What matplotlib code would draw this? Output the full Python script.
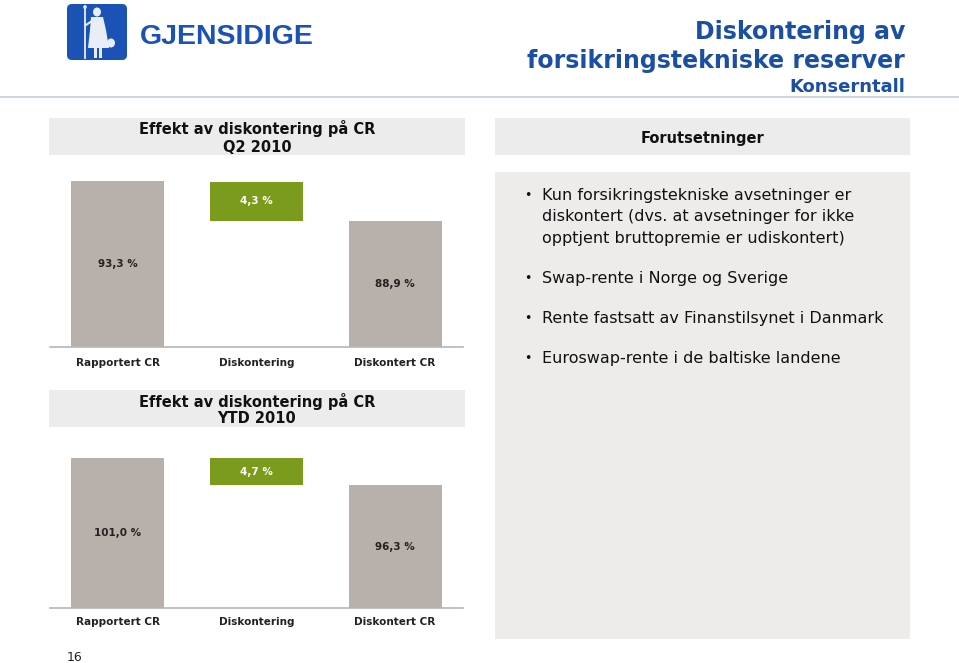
import matplotlib
matplotlib.use("Agg")
import matplotlib.pyplot as plt
from matplotlib.patches import Rectangle, FancyBboxPatch, Ellipse, Polygon

# ---- data ----
categories = ["Rapportert CR", "Diskontering", "Diskontert CR"]
q2_values = [93.3, 4.3, 88.9]
ytd_values = [101.0, 4.7, 96.3]
q2_title = ["Effekt av diskontering på CR", "Q2 2010"]
ytd_title = ["Effekt av diskontering på CR", "YTD 2010"]
bullets = [
    ["Kun forsikringstekniske avsetninger er",
     "diskontert (dvs. at avsetninger for ikke",
     "opptjent bruttopremie er udiskontert)"],
    ["Swap-rente i Norge og Sverige"],
    ["Rente fastsatt av Finanstilsynet i Danmark"],
    ["Euroswap-rente i de baltiske landene"],
]

FONT = "DejaVu Sans"
GRAY_BAR = "#b8b0aa"
GREEN = "#7b9b1c"
BLUE = "#1b4fa3"
BOX = "#ececec"
PANEL = "#edeceb"

W, H = 959, 663
fig = plt.figure(figsize=(W / 100, H / 100), dpi=100)
fig.patch.set_facecolor("white")

bg = fig.add_axes([0, 0, 1, 1])
bg.set_xlim(0, W)
bg.set_ylim(H, 0)
bg.axis("off")

# logo
LOGO = "#1a52b5"
FIG_C = "#e9eef6"
bg.add_patch(FancyBboxPatch((67, 4), 60, 56, boxstyle="round,pad=0,rounding_size=5",
                            facecolor=LOGO, edgecolor="none"))
bg.plot([85, 85], [8, 58], color=FIG_C, lw=1.3)
bg.add_patch(Ellipse((85, 7), 3.5, 4, facecolor=FIG_C, edgecolor="none"))
bg.add_patch(Ellipse((97, 12), 8, 9, facecolor=FIG_C, edgecolor="none"))
bg.add_patch(Polygon([(91, 17), (103, 17), (106, 30), (109, 48), (88, 48), (90, 30)],
                     closed=True, facecolor=FIG_C, edgecolor="none"))
bg.plot([86, 92], [25, 21], color=FIG_C, lw=1.5)
bg.add_patch(Rectangle((94, 47), 3, 11, facecolor=FIG_C, edgecolor="none"))
bg.add_patch(Rectangle((99, 47), 3, 11, facecolor=FIG_C, edgecolor="none"))
bg.add_patch(Ellipse((111, 43), 8, 9, facecolor=FIG_C, edgecolor="none"))
bg.text(140, 44, "GJENSIDIGE", fontsize=20.5, fontweight="bold", color="#1a52b5",
        family="Liberation Sans", va="baseline", ha="left")

# title
bg.text(905, 39, "Diskontering av", fontsize=17, fontweight="bold", color=BLUE,
        family=FONT, ha="right", va="baseline")
bg.text(905, 68, "forsikringstekniske reserver", fontsize=17, fontweight="bold",
        color=BLUE, family=FONT, ha="right", va="baseline")
bg.text(905, 92, "Konserntall", fontsize=13, fontweight="bold", color=BLUE,
        family=FONT, ha="right", va="baseline")
bg.plot([0, W], [97, 97], color="#c3cfdc", lw=1.2)

# header boxes
bg.add_patch(Rectangle((49, 118), 416, 37, facecolor=BOX, edgecolor="none"))
bg.text(257, 134, q2_title[0], fontsize=10.5, fontweight="bold", family=FONT,
        ha="center", va="baseline", color="#111111")
bg.text(257, 152, q2_title[1], fontsize=10.5, fontweight="bold", family=FONT,
        ha="center", va="baseline", color="#111111")

bg.add_patch(Rectangle((495, 118), 415, 37, facecolor=BOX, edgecolor="none"))
bg.text(702, 143, "Forutsetninger", fontsize=10.5, fontweight="bold", family=FONT,
        ha="center", va="baseline", color="#111111")

bg.add_patch(Rectangle((49, 390), 416, 37, facecolor=BOX, edgecolor="none"))
bg.text(257, 407, ytd_title[0], fontsize=10.5, fontweight="bold", family=FONT,
        ha="center", va="baseline", color="#111111")
bg.text(257, 423, ytd_title[1], fontsize=10.5, fontweight="bold", family=FONT,
        ha="center", va="baseline", color="#111111")

# right panel
bg.add_patch(Rectangle((495, 172), 415, 467, facecolor=PANEL, edgecolor="none"))
baselines = [[200, 221, 243], [283], [323], [363]]
for lines, ys in zip(bullets, baselines):
    bg.text(524, ys[0] - 1, "•", fontsize=9, family=FONT, ha="left", va="baseline",
            color="#111111")
    for line, y in zip(lines, ys):
        bg.text(542, y, line, fontsize=11.5, family=FONT, ha="left", va="baseline",
                color="#111111")

bg.text(67, 661, "16", fontsize=9, family=FONT, ha="left", va="baseline",
        color="#222222")


def fmt(v):
    return f"{v:.1f}".replace(".", ",") + " %"


def waterfall(top_px, bottom_px, ymin, ymax, values, label_base):
    ax = fig.add_axes([50 / W, 1 - bottom_px / H, 413 / W, (bottom_px - top_px) / H])
    ax.set_facecolor("none")
    ax.set_xlim(-0.49, 2.49)
    ax.set_ylim(ymin, ymax)
    start, delta, end = values
    x = [0, 1, 2]
    ax.bar([0, 2], [start, end], width=0.67, color=GRAY_BAR, zorder=2)
    ax.bar([1], [delta], bottom=[end], width=0.67, color=GREEN, zorder=2)
    ax.text(0, (ymin + start) / 2, fmt(start), ha="center", va="center", fontsize=7.5,
            fontweight="bold", family=FONT, color="#222222")
    ax.text(2, (ymin + end) / 2, fmt(end), ha="center", va="center", fontsize=7.5,
            fontweight="bold", family=FONT, color="#222222")
    ax.text(1, end + delta / 2, fmt(delta), ha="center", va="center", fontsize=7.5,
            fontweight="bold", family=FONT, color="white")
    for s in ["top", "left", "right"]:
        ax.spines[s].set_visible(False)
    ax.spines["bottom"].set_color("#b5b5b5")
    ax.spines["bottom"].set_linewidth(1.2)
    ax.set_yticks([])
    ax.set_xticks([])
    ax.spines["bottom"].set_zorder(3)
    for xi, c in zip(x, categories):
        bg.text(50 + (xi + 0.49) / 2.98 * 413, label_base, c, fontsize=7.5,
                fontweight="bold", family=FONT, ha="center", va="baseline",
                color="#222222")
    return ax


waterfall(181, 347, 75, 93.3, q2_values, 366)
waterfall(458, 608, 75, 101.0, ytd_values, 625)

fig.savefig("out.png", dpi=100, facecolor="white")
